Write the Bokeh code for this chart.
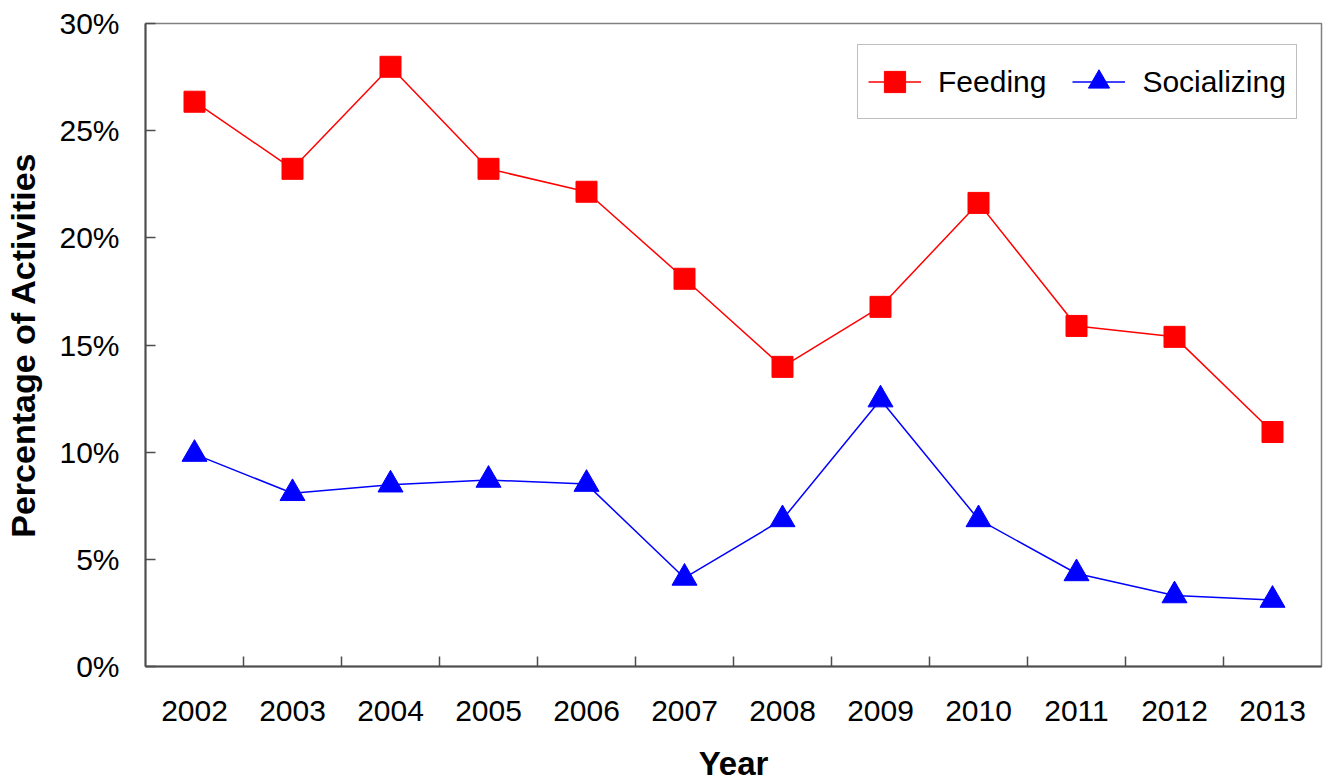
from bokeh.plotting import figure
from bokeh.models import Range1d, FixedTicker, PrintfTickFormatter, Legend, LegendItem
from bokeh.embed import file_html
from bokeh.resources import INLINE

years = [2002, 2003, 2004, 2005, 2006, 2007, 2008, 2009, 2010, 2011, 2012, 2013]
feeding = [26.35, 23.22, 27.98, 23.22, 22.15, 18.09, 13.98, 16.78, 21.63, 15.89, 15.38, 10.94]
socializing = [9.91, 8.08, 8.48, 8.70, 8.51, 4.13, 6.86, 12.45, 6.86, 4.34, 3.31, 3.10]
y_ticks = [0, 5, 10, 15, 20, 25, 30]

FONT = "Liberation Sans"

p = figure(width=1324, height=784, output_backend="svg", toolbar_location=None,
           x_range=Range1d(years[0] - 0.5, years[-1] + 0.5),
           y_range=Range1d(y_ticks[0], y_ticks[-1]),
           min_border_left=145, min_border_right=3, min_border_top=23, min_border_bottom=118)
p.grid.visible = False
p.outline_line_color = "#808080"
p.outline_line_width = 1.5
p.background_fill_color = "white"
p.border_fill_color = "white"

# x axis: labels at category centres, small ticks at boundaries
xa = p.xaxis[0]
boundaries = [y + 0.5 for y in years[:-1]]
xa.ticker = FixedTicker(ticks=years, minor_ticks=boundaries)
xa.major_tick_in = 0
xa.major_tick_out = 0
xa.minor_tick_in = 10
xa.minor_tick_out = 0
xa.minor_tick_line_color = "#4d4d4d"
xa.minor_tick_line_width = 1.5
xa.axis_line_color = "#4d4d4d"
xa.axis_line_width = 2
xa.major_label_text_font = FONT
xa.major_label_text_font_size = "30px"
xa.major_label_text_color = "black"
xa.major_label_standoff = 34
xa.axis_label = "Year"
xa.axis_label_text_font = FONT
xa.axis_label_text_font_size = "33px"
xa.axis_label_text_font_style = "bold"
xa.axis_label_text_color = "black"
xa.axis_label_standoff = 21

ya = p.yaxis[0]
ya.ticker = FixedTicker(ticks=y_ticks, minor_ticks=[])
ya.formatter = PrintfTickFormatter(format="%d%%")
ya.major_tick_in = 10
ya.major_tick_out = 0
ya.major_tick_line_color = "#4d4d4d"
ya.major_tick_line_width = 1.5
ya.axis_line_color = "#4d4d4d"
ya.axis_line_width = 2
ya.major_label_text_font = FONT
ya.major_label_text_font_size = "30px"
ya.major_label_text_color = "black"
ya.major_label_standoff = 26
ya.axis_label = "Percentage of Activities"
ya.axis_label_text_font = FONT
ya.axis_label_text_font_size = "34px"
ya.axis_label_text_font_style = "bold"
ya.axis_label_text_color = "black"
ya.axis_label_standoff = 14

l1 = p.line(years, feeding, line_color="#ff0000", line_width=1.5)
s1 = p.scatter(years, feeding, marker="square", size=21, fill_color="#ff0000", line_color="#ff0000")
l2 = p.line(years, socializing, line_color="#0000ff", line_width=1.5)
s2 = p.scatter(years, socializing, marker="triangle", size=25, fill_color="#0000ff", line_color="#0000ff")

legend = Legend(items=[LegendItem(label="Feeding", renderers=[l1, s1]),
                       LegendItem(label="Socializing", renderers=[l2, s2])],
                orientation="horizontal", location=(712, 547))
legend.label_text_font = FONT
legend.label_text_font_size = "30px"
legend.label_text_color = "black"
legend.glyph_width = 53
legend.glyph_height = 53
legend.label_standoff = 17
legend.spacing = 26
legend.padding = 10
legend.margin = 0
legend.border_line_color = "#808080"
legend.border_line_width = 1.5
legend.background_fill_color = "white"
legend.background_fill_alpha = 1
p.add_layout(legend)

open("out.html", "w").write(file_html(p, INLINE))
